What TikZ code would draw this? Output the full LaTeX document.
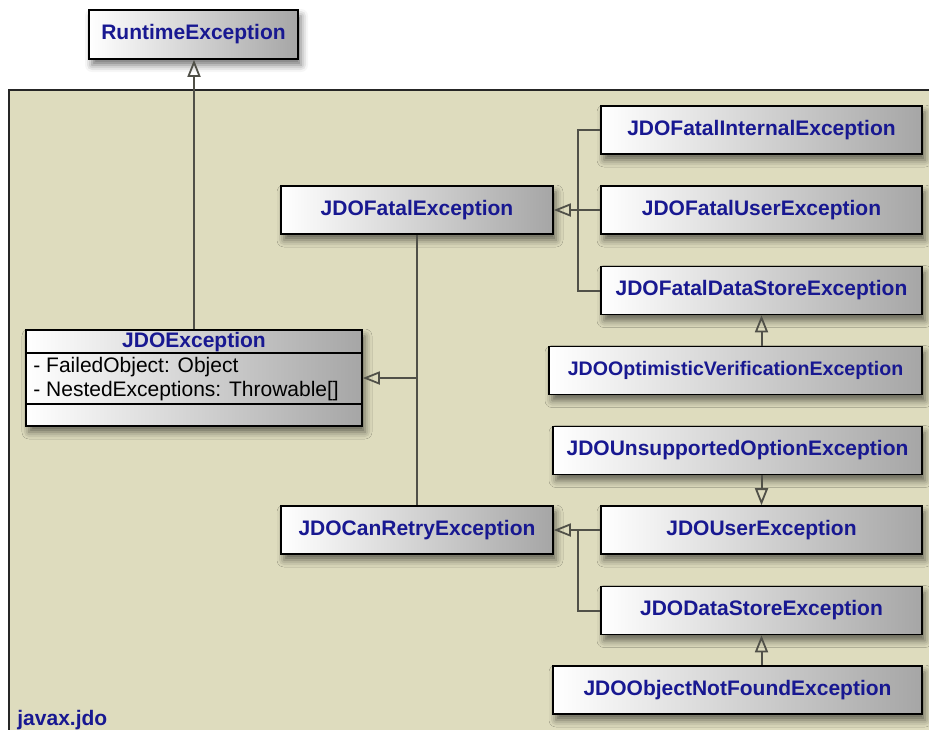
\documentclass[tikz,border=0pt]{standalone}
\usepackage{fontspec}
\setmainfont{Liberation Sans}
\usepackage{xcolor}
\usetikzlibrary{arrows.meta}
\usetikzlibrary{shadows.blur}
\definecolor{pkgfill}{RGB}{222,220,190}
\definecolor{clsname}{RGB}{24,24,145}
\definecolor{linkgray}{RGB}{80,80,72}

\begin{document}
\begin{tikzpicture}[x=0.5pt,y=-0.5pt]
\tikzset{>={Triangle[open,width=6.5pt,length=8.5pt,line width=0.9pt]}}
\tikzstyle{cls} =[draw=black, line width=0.8pt, left color=white, right color=black!35,
  blur shadow={shadow xshift=1.5pt, shadow yshift=-3pt, shadow blur radius=3.5pt, shadow opacity=55},
  inner sep=0pt, minimum width=160.5pt, minimum height=24pt,
  font=\fontsize{10.5}{12}\selectfont\bfseries, text=clsname]
\tikzstyle{attr} =[anchor=west, inner sep=0pt, font=\fontsize{10.5}{12}\selectfont]
\tikzstyle{link} =[line width=1pt, linkgray]
\useasboundingbox (0,0) rectangle (929,729);

% package javax.jdo
\fill[pkgfill] (9,90) rectangle (945,745);
\draw[line width=0.8pt, black!85] (9,745) -- (9,90) -- (945,90);
\node[anchor=base west, inner sep=0pt, font=\fontsize{10.5}{12}\selectfont\bfseries, text=clsname] (pkg) at (17,725) {javax.jdo};

% classes
\node[cls, minimum width=104.5pt, minimum height=24.5pt] (rte) at (193.5,34.5) {RuntimeException};
\node[cls, minimum width=168pt, minimum height=48pt] (jdo) at (194,378) {};
\node[inner sep=0pt, font=\fontsize{10.5}{12}\selectfont\bfseries, text=clsname] (jdoname) at (194,342) {JDOException};
\node[attr] (attr1) at (33,367) {- FailedObject: Object};
\node[attr] (attr2) at (33,391) {- NestedExceptions: Throwable[]};
\draw[line width=0.8pt] ([yshift=-12pt]jdo.north west) -- ([yshift=-12pt]jdo.north east);
\draw[line width=0.8pt] ([yshift=-37.5pt]jdo.north west) -- ([yshift=-37.5pt]jdo.north east);

\node[cls, minimum width=136pt] (fatal) at (417,210) {JDOFatalException};
\node[cls, minimum width=136pt] (canretry) at (417,530) {JDOCanRetryException};

\node[cls] (fatalint) at (761.5,130) {JDOFatalInternalException};
\node[cls] (fataluser) at (761.5,210) {JDOFatalUserException};
\node[cls] (fatalds) at (761.5,290.5) {JDOFatalDataStoreException};
\node[cls, minimum width=186.5pt, font=\fontsize{9.8}{12}\selectfont\bfseries] (optim) at (735.5,370.5) {JDOOptimisticVerificationException};
\node[cls, minimum width=184.5pt] (unsupp) at (737.5,450.5) {JDOUnsupportedOptionException};
\node[cls] (user) at (761.5,530) {JDOUserException};
\node[cls] (datastore) at (761.5,610.5) {JDODataStoreException};
\node[cls, minimum width=184.5pt] (objnf) at (737.5,690) {JDOObjectNotFoundException};

% generalizations
\draw[link,->] (jdo.north) -- (jdo.north |- rte.south);
\draw[link] (fatal) -- (canretry);
\draw[link,->] (fatal.south |- jdo.east) -- (jdo.east);

\coordinate (fj) at (578,210);
\draw[link] (fatalint.west) -| (fj) |- (fatalds.west);
\draw[link,->] (fataluser.west) -- (fatal.east);
\draw[link,->] (fatalds.south |- optim.north) -- (fatalds.south);

\draw[link,->] (user.north |- unsupp.south) -- (user.north);
\coordinate (cj) at (578,530);
\draw[link] (datastore.west) -| (cj);
\draw[link,->] (user.west) -- (canretry.east);
\draw[link,->] (datastore.south |- objnf.north) -- (datastore.south);
\end{tikzpicture}
\end{document}
